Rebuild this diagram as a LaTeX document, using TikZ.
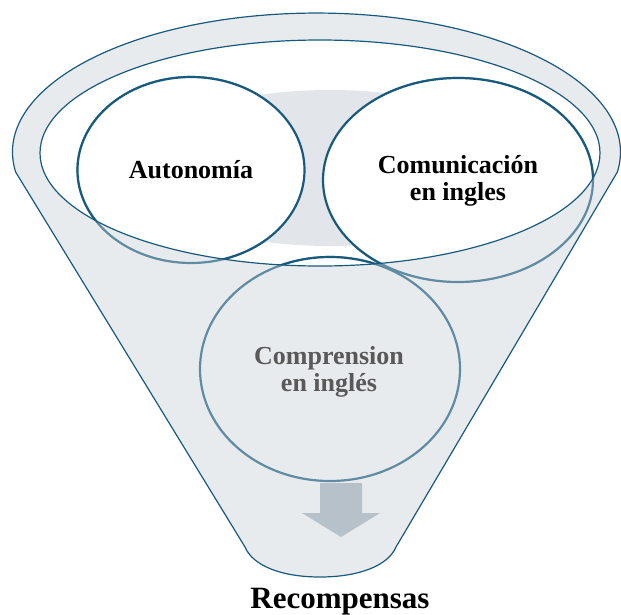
\documentclass[tikz,border=0pt]{standalone}
\usepackage{fontspec}
\setmainfont{Liberation Serif}
\definecolor{darkteal}{HTML}{185A7D}
\definecolor{lightteal}{HTML}{5F8CA2}
\definecolor{funnelgray}{HTML}{E8EBEE}
\definecolor{midgray}{HTML}{E2E5E9}
\definecolor{arrowgray}{HTML}{B7C1CA}
\definecolor{textgray}{HTML}{595959}
\tikzset{
  circlabel/.style={font=\bfseries\fontsize{26}{27}\selectfont, align=center, inner sep=0pt},
  darkline/.style={draw=darkteal, line width=2.2pt},
  lightline/.style={draw=lightteal, line width=2.2pt},
  rimline/.style={draw=darkteal, line width=1.2pt}
}
\begin{document}
\begin{tikzpicture}[x=1pt,y=-1pt]
\useasboundingbox (0,0) rectangle (621,614);
% funnel body
\path[fill=funnelgray] (15.7,172.1) arc[start angle=171.7, end angle=368.3, x radius=304, y radius=139]
  -- (396,547) .. controls (388,566) and (358,577) .. (320,577)
  .. controls (282,577) and (253,566) .. (245,547) -- cycle;
% inner opening
\fill[white] (320,153) ellipse[x radius=280, y radius=113];
% lighter strokes (seen through the funnel)
\draw[lightline] (191,170) ellipse[x radius=113.5, y radius=93];
\draw[lightline] (458,180) ellipse[x radius=135, y radius=102];
\draw[lightline] (330,369) ellipse[x radius=130, y radius=112];
% inside the opening
\begin{scope}
\clip (320,153) ellipse[x radius=280, y radius=113];
\fill[midgray] (330,168) ellipse[x radius=200, y radius=78];
\fill[white] (191,170) ellipse[x radius=113.5, y radius=93];
\fill[white] (458,180) ellipse[x radius=135, y radius=102];
\fill[white] (330,369) ellipse[x radius=130, y radius=112];
\draw[darkline] (191,170) ellipse[x radius=113.5, y radius=93];
\draw[darkline] (458,180) ellipse[x radius=135, y radius=102];
\draw[darkline] (330,369) ellipse[x radius=130, y radius=112];
\end{scope}
% rim outlines
\draw[rimline] (15.7,172.1) arc[start angle=171.7, end angle=368.3, x radius=304, y radius=139]
  -- (396,547) .. controls (388,566) and (358,577) .. (320,577)
  .. controls (282,577) and (253,566) .. (245,547) -- cycle;
\draw[rimline] (320,153) ellipse[x radius=280, y radius=113];
% arrow
\fill[arrowgray] (320,483) -- (362,483) -- (362,513) -- (380,513) -- (341,537) -- (302,513) -- (320,513) -- cycle;
% texts
\node[circlabel, anchor=base] (auto) at (191,178) {Autonomía};
\node[circlabel] (comu) at (458,181) {Comunicación\\en ingles};
\node[circlabel, text=textgray] (compr) at (329,372) {Comprension\\en inglés};
\node[font=\bfseries\fontsize{31}{33}\selectfont, anchor=base, inner sep=0pt] (reco) at (340,608) {Recompensas};
\end{tikzpicture}
\end{document}
